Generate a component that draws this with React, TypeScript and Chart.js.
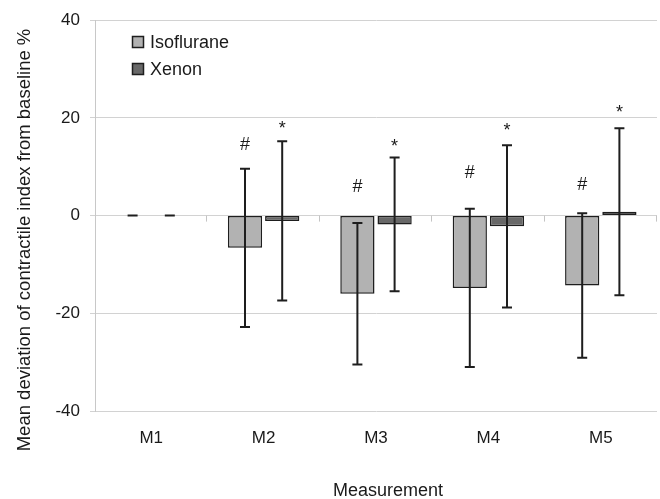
import React, { useEffect, useRef } from "react";
import { Chart, registerables } from "chart.js";

Chart.register(...registerables);

const categories = ["M1", "M2", "M3", "M4", "M5"];
const isoMean = [0, -6.6, -16.0, -14.8, -14.3];
const isoSD = [0, 16.2, 14.5, 16.2, 14.8];
const xeMean = [0, -1.1, -1.8, -2.2, 0.8];
const xeSD = [0, 16.3, 13.7, 16.6, 17.1];
// significance marks (value where the mark is centred)
const isoMarkY: (number | null)[] = [null, 14.7, 6.1, 9.1, 6.6];
const xeMarkY: (number | null)[] = [null, 18.6, 14.9, 18.3, 21.9];
const isoMark = "#";
const xeMark = "*";
const seriesNames = ["Isoflurane", "Xenon"];
const yMin = -40;
const yMax = 40;
const yStep = 20;
const yTitle = "Mean deviation of contractile index from baseline %";
const xTitle = "Measurement";

const FONT = "'Liberation Sans', Arial, Helvetica, sans-serif";
const ISO_FILL = "#b2b2b2";
const XE_FILL = "#686868";
const EDGE = "#1e1e1e";

export default function App() {
  const ref = useRef<HTMLCanvasElement | null>(null);

  useEffect(() => {
    if (!ref.current) return;
    const drawPlugin = {
      id: "custom",
      afterDatasetsDraw(chart: any) {
        const ctx = chart.ctx;
        const ys = chart.scales.y;
        const xs = chart.scales.x;
        const area = chart.chartArea;
        // tick marks on the zero line at category boundaries
        ctx.save();
        ctx.strokeStyle = "#c4c4c4";
        ctx.lineWidth = 1;
        const y0 = ys.getPixelForValue(0);
        const n = categories.length;
        const cw = (area.right - area.left) / n;
        for (let i = 1; i <= n; i++) {
          const x = Math.round(area.left + cw * i) - 0.5;
          ctx.beginPath();
          ctx.moveTo(x, y0);
          ctx.lineTo(x, y0 + 6);
          ctx.stroke();
        }
        ctx.restore();

        // error bars
        const sds = [isoSD, xeSD];
        const means = [isoMean, xeMean];
        ctx.save();
        ctx.strokeStyle = EDGE;
        ctx.lineWidth = 2;
        for (let d = 0; d < 2; d++) {
          const meta = chart.getDatasetMeta(d);
          meta.data.forEach((el: any, i: number) => {
            const x = el.x;
            const top = ys.getPixelForValue(means[d][i] + sds[d][i]);
            const bot = ys.getPixelForValue(means[d][i] - sds[d][i]);
            ctx.beginPath();
            if (sds[d][i] > 0) {
              ctx.moveTo(x, top);
              ctx.lineTo(x, bot);
            }
            ctx.moveTo(x - 5, top);
            ctx.lineTo(x + 5, top);
            ctx.moveTo(x - 5, bot);
            ctx.lineTo(x + 5, bot);
            ctx.stroke();
          });
        }
        ctx.restore();

        // significance marks
        const marks = [isoMarkY, xeMarkY];
        const markText = [isoMark, xeMark];
        ctx.save();
        ctx.fillStyle = "#1a1a1a";
        ctx.font = `18px ${FONT}`;
        ctx.textAlign = "center";
        ctx.textBaseline = "alphabetic";
        for (let d = 0; d < 2; d++) {
          const meta = chart.getDatasetMeta(d);
          meta.data.forEach((el: any, i: number) => {
            const v = marks[d][i];
            if (v === null) return;
            const m = ctx.measureText(markText[d]);
            const cy = ys.getPixelForValue(v);
            const base = cy + (m.actualBoundingBoxAscent - m.actualBoundingBoxDescent) / 2;
            ctx.fillText(markText[d], el.x, base);
          });
        }
        ctx.restore();
        void xs;
      },
      afterDraw(chart: any) {
        const ctx = chart.ctx;
        ctx.save();
        // legend
        const fills = [ISO_FILL, XE_FILL];
        const rowsY = [42, 69];
        ctx.font = `18px ${FONT}`;
        ctx.textAlign = "left";
        ctx.textBaseline = "middle";
        for (let i = 0; i < 2; i++) {
          const by = rowsY[i] - 5.5;
          ctx.fillStyle = fills[i];
          ctx.fillRect(132.5, by, 11, 11);
          ctx.strokeStyle = EDGE;
          ctx.lineWidth = 1.5;
          ctx.strokeRect(132.5, by, 11, 11);
          ctx.fillStyle = "#1a1a1a";
          ctx.fillText(seriesNames[i], 150, rowsY[i] + 1);
        }
        // axis titles
        ctx.fillStyle = "#1a1a1a";
        ctx.font = `18.5px ${FONT}`;
        ctx.textAlign = "center";
        ctx.textBaseline = "alphabetic";
        ctx.translate(30, 240);
        ctx.rotate(-Math.PI / 2);
        ctx.fillText(yTitle, 0, 0);
        ctx.setTransform(1, 0, 0, 1, 0, 0);
        ctx.font = `18px ${FONT}`;
        ctx.fillText(xTitle, 388, 496);
        ctx.restore();
      },
    };

    const chart = new Chart(ref.current, {
      type: "bar",
      data: {
        labels: categories,
        datasets: [
          {
            label: seriesNames[0],
            data: isoMean,
            backgroundColor: ISO_FILL,
            borderColor: EDGE,
            borderWidth: 1.5,
            borderSkipped: false,
            categoryPercentage: 0.662,
            barPercentage: 0.92,
          },
          {
            label: seriesNames[1],
            data: xeMean,
            backgroundColor: XE_FILL,
            borderColor: EDGE,
            borderWidth: 1.5,
            borderSkipped: false,
            categoryPercentage: 0.662,
            barPercentage: 0.92,
          },
        ],
      },
      options: {
        responsive: false,
        animation: false,
        devicePixelRatio: 1,
        layout: { padding: { top: 17, right: 3, left: 0, bottom: 0 } },
        plugins: {
          legend: { display: false },
          tooltip: { enabled: false },
        },
        scales: {
          x: {
            grid: { display: false, drawTicks: false, tickLength: 0 },
            border: { display: false },
            ticks: {
              color: "#1a1a1a",
              font: { family: FONT, size: 17 },
              padding: 17,
            },
            afterFit: (s: any) => {
              s.height = 88;
            },
          },
          y: {
            min: yMin,
            max: yMax,
            grid: { color: "#d2d2d2", lineWidth: 1, drawTicks: true, tickLength: 5 },
            border: { display: true, color: "#c8c8c8" },
            ticks: {
              stepSize: yStep,
              color: "#1a1a1a",
              font: { family: FONT, size: 17 },
              padding: 10,
            },
            afterFit: (s: any) => {
              s.width = 95;
            },
          },
        },
      },
      plugins: [drawPlugin],
    });
    return () => chart.destroy();
  }, []);

  return (
    <div style={{ position: "absolute", left: 0, top: 0, width: 660, height: 499, background: "#fff" }}>
      <canvas ref={ref} width={660} height={499} />
    </div>
  );
}
